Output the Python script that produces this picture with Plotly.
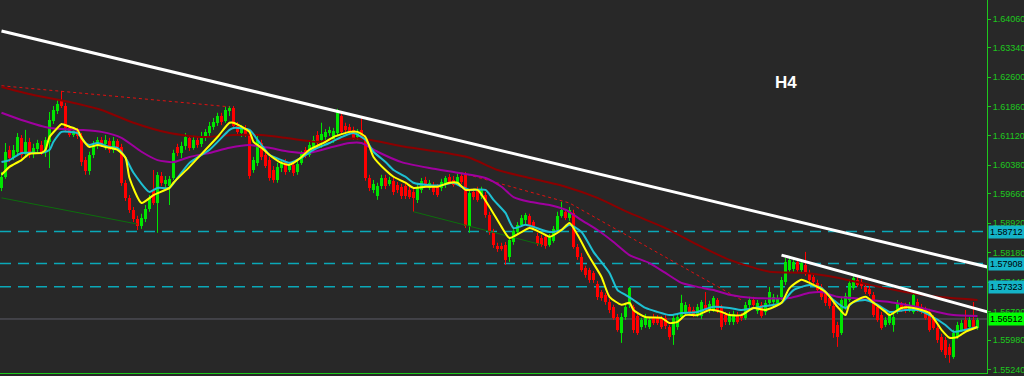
import plotly.graph_objects as go

# ---------------- candle data (GBPUSD-like, H4) ----------------
opens = [
    1.5981, 1.6009, 1.6077, 1.6057, 1.6072, 1.6107, 1.6067, 1.6097, 1.6067, 1.6079,
    1.6089, 1.6072, 1.6097, 1.6150, 1.6175, 1.6202, 1.6187, 1.6132, 1.6114, 1.6124,
    1.6112, 1.6051, 1.6024, 1.6064, 1.6087, 1.6102, 1.6092, 1.6099, 1.6077, 1.6099,
    1.6084, 1.5994, 1.5956, 1.5926, 1.5903, 1.5885, 1.5903, 1.5928, 1.5976, 1.5943,
    1.6011, 1.5991, 1.5986, 1.6006, 1.6084, 1.6069, 1.6087, 1.6107, 1.6082, 1.6102,
    1.6092, 1.6109, 1.6119, 1.6135, 1.6145, 1.6162, 1.6150, 1.6175, 1.6182, 1.6137,
    1.6119, 1.6132, 1.6117, 1.6026, 1.6044, 1.6094, 1.6064, 1.6051, 1.6026, 1.6001,
    1.6031, 1.6046, 1.6026, 1.6039, 1.6021, 1.6044, 1.6077, 1.6064, 1.6084, 1.6114,
    1.6102, 1.6109, 1.6119, 1.6102, 1.6119, 1.6162, 1.6137, 1.6135, 1.6127, 1.6109,
    1.6127, 1.6107, 1.6006, 1.5976, 1.5961, 1.5986, 1.6006, 1.5991, 1.5999, 1.5988,
    1.5984, 1.5986, 1.5976, 1.5971, 1.5951, 1.5976, 1.6001, 1.5981, 1.5988, 1.5984,
    1.5981, 1.5988, 1.6009, 1.6001, 1.5994, 1.6011, 1.6014, 1.5885, 1.5971, 1.5976,
    1.5961, 1.5963, 1.5913, 1.5870, 1.5835, 1.5835, 1.5838, 1.5807, 1.5845, 1.5870,
    1.5888, 1.5900, 1.5911, 1.5895, 1.5860, 1.5855, 1.5858, 1.5838, 1.5848, 1.5875,
    1.5911, 1.5921, 1.5906, 1.5918, 1.5833, 1.5807, 1.5780, 1.5775, 1.5767, 1.5739,
    1.5719, 1.5712, 1.5694, 1.5682, 1.5656, 1.5616, 1.5656, 1.5687, 1.5682, 1.5659,
    1.5631, 1.5636, 1.5631, 1.5656, 1.5654, 1.5654, 1.5654, 1.5631, 1.5611, 1.5631,
    1.5656, 1.5666, 1.5682, 1.5674, 1.5664, 1.5659, 1.5687, 1.5674, 1.5674, 1.5699,
    1.5682, 1.5661, 1.5644, 1.5644, 1.5661, 1.5659, 1.5654, 1.5687, 1.5699, 1.5672,
    1.5687, 1.5669, 1.5692, 1.5694, 1.5692, 1.5707, 1.5745, 1.5775, 1.5777, 1.5795,
    1.5775, 1.5787, 1.5767, 1.5757, 1.5742, 1.5732, 1.5717, 1.5704, 1.5684, 1.5636,
    1.5616, 1.5682, 1.5699, 1.5729, 1.5750, 1.5745, 1.5732, 1.5727, 1.5712, 1.5682,
    1.5661, 1.5636, 1.5641, 1.5636, 1.5669, 1.5687, 1.5684, 1.5674, 1.5669, 1.5694,
    1.5682, 1.5674, 1.5669, 1.5654, 1.5629, 1.5606, 1.5599, 1.5581, 1.5556, 1.5606,
    1.5624, 1.5649, 1.5631, 1.5649, 1.5629,
]
highs = [
    1.6021, 1.6094, 1.6087, 1.6089, 1.6119, 1.6114, 1.6127, 1.6107, 1.6092, 1.6102,
    1.6099, 1.6109, 1.6172, 1.6187, 1.6202, 1.6225, 1.6195, 1.6139, 1.6132, 1.6132,
    1.6119, 1.6059, 1.6072, 1.6099, 1.6109, 1.6109, 1.6114, 1.6107, 1.6109, 1.6104,
    1.6092, 1.6001, 1.5963, 1.5933, 1.5911, 1.5916, 1.5938, 1.5963, 1.6026, 1.6021,
    1.6021, 1.6011, 1.6011, 1.6077, 1.6092, 1.6097, 1.6119, 1.6114, 1.6112, 1.6109,
    1.6122, 1.6129, 1.6147, 1.6157, 1.6170, 1.6170, 1.6185, 1.6187, 1.6187, 1.6147,
    1.6139, 1.6139, 1.6124, 1.6059, 1.6112, 1.6102, 1.6072, 1.6059, 1.6036, 1.6044,
    1.6051, 1.6054, 1.6044, 1.6046, 1.6051, 1.6074, 1.6084, 1.6097, 1.6112, 1.6124,
    1.6145, 1.6129, 1.6135, 1.6132, 1.6180, 1.6170, 1.6145, 1.6142, 1.6135, 1.6129,
    1.6157, 1.6114, 1.6014, 1.6001, 1.5994, 1.6014, 1.6014, 1.6009, 1.6006, 1.5996,
    1.5991, 1.5994, 1.5984, 1.5978, 1.5991, 1.6006, 1.6009, 1.6001, 1.5996, 1.5991,
    1.6004, 1.6011, 1.6016, 1.6011, 1.6016, 1.6019, 1.6021, 1.5976, 1.5979, 1.5984,
    1.5984, 1.5971, 1.5921, 1.5878, 1.5843, 1.5843, 1.5845, 1.5858, 1.5878, 1.5895,
    1.5913, 1.5918, 1.5916, 1.5900, 1.5868, 1.5863, 1.5865, 1.5865, 1.5885, 1.5921,
    1.5946, 1.5928, 1.5933, 1.5926, 1.5840, 1.5817, 1.5785, 1.5780, 1.5772, 1.5747,
    1.5724, 1.5717, 1.5702, 1.5687, 1.5664, 1.5666, 1.5692, 1.5732, 1.5687, 1.5666,
    1.5654, 1.5664, 1.5654, 1.5664, 1.5661, 1.5659, 1.5661, 1.5636, 1.5661, 1.5664,
    1.5712, 1.5694, 1.5689, 1.5682, 1.5689, 1.5699, 1.5719, 1.5697, 1.5709, 1.5704,
    1.5687, 1.5669, 1.5669, 1.5672, 1.5669, 1.5666, 1.5694, 1.5707, 1.5707, 1.5699,
    1.5694, 1.5699, 1.5732, 1.5714, 1.5712, 1.5757, 1.5805, 1.5807, 1.5802, 1.5805,
    1.5800, 1.5820, 1.5775, 1.5765, 1.5750, 1.5739, 1.5724, 1.5712, 1.5692, 1.5644,
    1.5707, 1.5717, 1.5750, 1.5760, 1.5757, 1.5752, 1.5739, 1.5734, 1.5719, 1.5689,
    1.5669, 1.5656, 1.5669, 1.5664, 1.5699, 1.5694, 1.5692, 1.5694, 1.5719, 1.5702,
    1.5689, 1.5682, 1.5677, 1.5661, 1.5636, 1.5614, 1.5606, 1.5589, 1.5624, 1.5644,
    1.5649, 1.5674, 1.5656, 1.5694, 1.5654,
]
lows = [
    1.5973, 1.6004, 1.6046, 1.6051, 1.6061, 1.6056, 1.6061, 1.6056, 1.6056, 1.6069,
    1.6064, 1.6059, 1.6031, 1.6142, 1.6167, 1.6182, 1.6124, 1.6109, 1.6109, 1.6104,
    1.6036, 1.6014, 1.6014, 1.6056, 1.6079, 1.6084, 1.6077, 1.6069, 1.6069, 1.6077,
    1.5986, 1.5948, 1.5918, 1.5895, 1.5875, 1.5878, 1.5895, 1.5921, 1.5938, 1.5868,
    1.5986, 1.5981, 1.5938, 1.6001, 1.6061, 1.6056, 1.6077, 1.6074, 1.6077, 1.6082,
    1.6084, 1.6099, 1.6112, 1.6127, 1.6137, 1.6139, 1.6145, 1.6162, 1.6129, 1.6117,
    1.6109, 1.6109, 1.6004, 1.6019, 1.6036, 1.6051, 1.6031, 1.5999, 1.5994, 1.5994,
    1.6021, 1.6014, 1.6021, 1.6011, 1.6014, 1.6039, 1.6056, 1.6059, 1.6077, 1.6087,
    1.6082, 1.6102, 1.6112, 1.6094, 1.6114, 1.6114, 1.6119, 1.6114, 1.6102, 1.6102,
    1.6102, 1.5999, 1.5973, 1.5968, 1.5951, 1.5978, 1.5978, 1.5986, 1.5963, 1.5968,
    1.5953, 1.5953, 1.5953, 1.5921, 1.5943, 1.5968, 1.5981, 1.5976, 1.5963, 1.5958,
    1.5973, 1.5981, 1.5991, 1.5984, 1.5988, 1.5991, 1.5880, 1.5868, 1.5951, 1.5946,
    1.5953, 1.5906, 1.5863, 1.5830, 1.5820, 1.5823, 1.5787, 1.5795, 1.5838, 1.5865,
    1.5883, 1.5888, 1.5878, 1.5875, 1.5835, 1.5833, 1.5828, 1.5833, 1.5843, 1.5870,
    1.5906, 1.5900, 1.5898, 1.5828, 1.5800, 1.5770, 1.5755, 1.5742, 1.5742, 1.5699,
    1.5697, 1.5687, 1.5666, 1.5649, 1.5619, 1.5591, 1.5649, 1.5679, 1.5616, 1.5611,
    1.5624, 1.5629, 1.5626, 1.5636, 1.5636, 1.5626, 1.5626, 1.5599, 1.5586, 1.5624,
    1.5651, 1.5659, 1.5661, 1.5656, 1.5656, 1.5651, 1.5669, 1.5666, 1.5669, 1.5666,
    1.5624, 1.5636, 1.5636, 1.5636, 1.5639, 1.5646, 1.5649, 1.5679, 1.5682, 1.5664,
    1.5654, 1.5661, 1.5687, 1.5687, 1.5684, 1.5699, 1.5737, 1.5767, 1.5770, 1.5770,
    1.5767, 1.5760, 1.5742, 1.5737, 1.5719, 1.5699, 1.5684, 1.5677, 1.5604, 1.5581,
    1.5611, 1.5674, 1.5694, 1.5724, 1.5732, 1.5727, 1.5714, 1.5709, 1.5656, 1.5644,
    1.5624, 1.5631, 1.5636, 1.5619, 1.5664, 1.5669, 1.5666, 1.5669, 1.5664, 1.5669,
    1.5664, 1.5649, 1.5619, 1.5624, 1.5591, 1.5568, 1.5553, 1.5541, 1.5551, 1.5601,
    1.5619, 1.5619, 1.5624, 1.5626, 1.5624,
]
closes = [
    1.6009, 1.6072, 1.6057, 1.6077, 1.6109, 1.6064, 1.6097, 1.6064, 1.6082, 1.6094,
    1.6072, 1.6102, 1.6152, 1.6177, 1.6192, 1.6187, 1.6132, 1.6114, 1.6124, 1.6112,
    1.6046, 1.6024, 1.6064, 1.6089, 1.6102, 1.6092, 1.6102, 1.6077, 1.6099, 1.6084,
    1.5994, 1.5956, 1.5926, 1.5903, 1.5885, 1.5906, 1.5928, 1.5956, 1.5943, 1.6014,
    1.5994, 1.6001, 1.6004, 1.6069, 1.6069, 1.6087, 1.6109, 1.6082, 1.6102, 1.6089,
    1.6112, 1.6122, 1.6137, 1.6147, 1.6162, 1.6147, 1.6177, 1.6182, 1.6137, 1.6122,
    1.6132, 1.6117, 1.6011, 1.6051, 1.6102, 1.6059, 1.6036, 1.6006, 1.6001, 1.6034,
    1.6044, 1.6021, 1.6036, 1.6019, 1.6041, 1.6067, 1.6064, 1.6089, 1.6102, 1.6094,
    1.6117, 1.6122, 1.6127, 1.6124, 1.6172, 1.6122, 1.6127, 1.6122, 1.6107, 1.6122,
    1.6109, 1.6006, 1.5981, 1.5991, 1.5986, 1.6006, 1.5986, 1.6001, 1.5971, 1.5976,
    1.5961, 1.5961, 1.5958, 1.5956, 1.5984, 1.5999, 1.5986, 1.5994, 1.5971, 1.5963,
    1.5996, 1.6006, 1.5996, 1.5988, 1.6009, 1.5996, 1.5885, 1.5968, 1.5958, 1.5951,
    1.5976, 1.5913, 1.5870, 1.5838, 1.5828, 1.5828, 1.5800, 1.5850, 1.5873, 1.5888,
    1.5906, 1.5913, 1.5885, 1.5880, 1.5840, 1.5838, 1.5835, 1.5858, 1.5878, 1.5911,
    1.5926, 1.5906, 1.5926, 1.5833, 1.5807, 1.5775, 1.5762, 1.5750, 1.5750, 1.5707,
    1.5704, 1.5694, 1.5674, 1.5654, 1.5624, 1.5656, 1.5682, 1.5729, 1.5624, 1.5616,
    1.5649, 1.5656, 1.5649, 1.5641, 1.5641, 1.5631, 1.5634, 1.5606, 1.5654, 1.5656,
    1.5692, 1.5687, 1.5669, 1.5664, 1.5682, 1.5694, 1.5674, 1.5689, 1.5704, 1.5674,
    1.5631, 1.5644, 1.5661, 1.5664, 1.5644, 1.5654, 1.5687, 1.5699, 1.5687, 1.5692,
    1.5659, 1.5692, 1.5719, 1.5707, 1.5704, 1.5750, 1.5795, 1.5800, 1.5795, 1.5775,
    1.5792, 1.5767, 1.5750, 1.5745, 1.5724, 1.5707, 1.5692, 1.5684, 1.5616, 1.5606,
    1.5699, 1.5709, 1.5742, 1.5755, 1.5737, 1.5734, 1.5719, 1.5714, 1.5661, 1.5649,
    1.5629, 1.5649, 1.5661, 1.5656, 1.5692, 1.5674, 1.5672, 1.5687, 1.5712, 1.5674,
    1.5669, 1.5654, 1.5624, 1.5629, 1.5599, 1.5573, 1.5561, 1.5561, 1.5616, 1.5636,
    1.5641, 1.5624, 1.5649, 1.5631, 1.5649,
]

# ---------------- moving averages ----------------
ma_fast_x = [0, 2, 5, 7, 10, 11, 12, 14, 15, 17, 19, 20, 22, 24, 26, 27, 29, 31, 32, 35,
             38, 42, 43, 47, 51, 54, 57, 58, 62, 63, 65, 67, 70, 72, 73, 75, 77, 81, 83, 87,
             89, 91, 93, 96, 98, 101, 103, 106, 109, 112, 114, 116, 119, 122, 125, 127, 130, 132, 135, 137,
             140, 142, 144, 147, 150, 152, 155, 157, 158, 161, 165, 167, 169, 171, 174, 177, 180, 182, 185, 188,
             191, 195, 197, 200, 202, 206, 209, 211, 212, 216, 218, 221, 222, 225, 228, 232, 235, 237, 239, 241, 244]
ma_fast_y = [1.6014, 1.6034, 1.6051, 1.6067, 1.6069, 1.6077, 1.6109, 1.6132, 1.6142, 1.6135,
             1.6127, 1.6107, 1.6084, 1.6089, 1.6084, 1.6082, 1.6077, 1.6057, 1.6006, 1.5943,
             1.5963, 1.5981, 1.5994, 1.6034, 1.6077, 1.6109, 1.6145, 1.6145, 1.6122, 1.6097,
             1.6082, 1.6064, 1.6044, 1.6039, 1.6044, 1.6059, 1.6077, 1.6097, 1.6109, 1.6122,
             1.6122, 1.6109, 1.6059, 1.6026, 1.6009, 1.5994, 1.5981, 1.5984, 1.5984, 1.5994,
             1.5994, 1.5976, 1.5976, 1.5933, 1.5883, 1.5855, 1.5870, 1.5880, 1.5868, 1.5858,
             1.5875, 1.5893, 1.5863, 1.5807, 1.5757, 1.5707, 1.5687, 1.5692, 1.5674, 1.5656,
             1.5654, 1.5641, 1.5644, 1.5661, 1.5661, 1.5674, 1.5669, 1.5661, 1.5661, 1.5679,
             1.5674, 1.5692, 1.5729, 1.5750, 1.5742, 1.5719, 1.5682, 1.5661, 1.5687, 1.5707,
             1.5692, 1.5669, 1.5661, 1.5679, 1.5679, 1.5666, 1.5624, 1.5604, 1.5606, 1.5619, 1.5631]

ma_mid_x = [0, 2, 5, 10, 12, 13, 15, 17, 19, 21, 22, 24, 27, 29, 31, 33, 37, 39, 42, 44,
            47, 52, 57, 58, 62, 64, 65, 67, 70, 72, 75, 78, 82, 85, 88, 91, 93, 96, 98, 101,
            103, 107, 110, 113, 115, 117, 121, 123, 126, 128, 131, 133, 137, 140, 142, 145, 148, 152, 154, 156,
            158, 161, 164, 167, 170, 174, 178, 182, 185, 190, 195, 198, 202, 205, 208, 211, 213, 216, 219, 222,
            226, 229, 232, 236, 238, 241, 244]
ma_mid_y = [1.6046, 1.6051, 1.6069, 1.6069, 1.6077, 1.6097, 1.6122, 1.6122, 1.6119, 1.6094,
            1.6089, 1.6094, 1.6084, 1.6082, 1.6057, 1.6019, 1.5971, 1.5981, 1.5981, 1.6006,
            1.6044, 1.6077, 1.6127, 1.6132, 1.6127, 1.6102, 1.6089, 1.6064, 1.6051, 1.6044,
            1.6057, 1.6077, 1.6094, 1.6109, 1.6119, 1.6102, 1.6072, 1.6046, 1.6026, 1.6009,
            1.5994, 1.5988, 1.5988, 1.5994, 1.5984, 1.5976, 1.5976, 1.5951, 1.5918, 1.5880,
            1.5888, 1.5883, 1.5870, 1.5875, 1.5888, 1.5870, 1.5820, 1.5767, 1.5724, 1.5712,
            1.5699, 1.5679, 1.5669, 1.5661, 1.5666, 1.5669, 1.5682, 1.5679, 1.5674, 1.5682,
            1.5692, 1.5724, 1.5737, 1.5729, 1.5699, 1.5679, 1.5694, 1.5699, 1.5687, 1.5669,
            1.5674, 1.5674, 1.5661, 1.5636, 1.5619, 1.5624, 1.5631]

ma_slow_x = [0, 5, 12, 20, 25, 30, 35, 39, 43, 47, 52, 57, 62, 65, 67, 72, 77, 82, 87, 90,
             94, 100, 107, 114, 121, 125, 128, 132, 137, 141, 145, 149, 153, 157, 162, 166, 170, 174, 178, 182,
             188, 197, 202, 205, 209, 213, 217, 222, 226, 230, 234, 238, 244]
ma_slow_y = [1.6170, 1.6152, 1.6132, 1.6127, 1.6122, 1.6107, 1.6072, 1.6051, 1.6046, 1.6059,
             1.6069, 1.6082, 1.6089, 1.6084, 1.6082, 1.6072, 1.6069, 1.6082, 1.6094, 1.6094,
             1.6072, 1.6046, 1.6031, 1.6019, 1.6006, 1.5984, 1.5958, 1.5946, 1.5938, 1.5926,
             1.5900, 1.5875, 1.5845, 1.5812, 1.5792, 1.5767, 1.5742, 1.5732, 1.5724, 1.5712,
             1.5704, 1.5704, 1.5717, 1.5719, 1.5707, 1.5704, 1.5699, 1.5694, 1.5687, 1.5679,
             1.5669, 1.5661, 1.5659]

ma_long_x = [0, 8, 17, 25, 33, 42, 50, 58, 65, 71, 79, 87, 92, 100, 108, 117, 124, 132, 141, 149,
             157, 166, 174, 182, 192, 201, 209, 217, 226, 234, 244]
ma_long_y = [1.6235, 1.6215, 1.6197, 1.6177, 1.6145, 1.6119, 1.6109, 1.6114, 1.6114, 1.6107,
             1.6097, 1.6105, 1.6102, 1.6086, 1.6074, 1.6057, 1.6026, 1.6006, 1.5984, 1.5956,
             1.5918, 1.5880, 1.5838, 1.5800, 1.5770, 1.5767, 1.5755, 1.5737, 1.5719, 1.5707,
             1.5699]

# swing-high dotted lines
dot_a_x = [0, 57]
dot_a_y = [1.6238, 1.6185]
dot_b_x = [115, 142, 185]
dot_b_y = [1.6019, 1.5943, 1.5699]

# trend lines
trend_long_x = [0, 246.5]
trend_long_y = [1.6376, 1.5782]
trend_short_x = [195, 246.5]
trend_short_y = [1.5812, 1.5669]
green_a_x = [0, 34]
green_a_y = [1.5956, 1.5890]
green_b_x = [103, 135]
green_b_y = [1.5921, 1.5838]

# horizontal levels
levels = [1.58712, 1.57908, 1.57323]
level_labels = ["1.58712", "1.57908", "1.57323"]
bid_price = 1.56512
bid_label = "1.56512"

tick_vals = [1.64060, 1.63340, 1.62600, 1.61860, 1.61120, 1.60380, 1.59660,
             1.58920, 1.58180, 1.57440, 1.56700, 1.55980, 1.55240]
tick_text = ["1.64060", "1.63340", "1.62600", "1.61860", "1.61120", "1.60380", "1.59660",
             "1.58920", "1.58180", "1.57440", "1.56700", "1.55980", "1.55240"]

timeframe_label = "H4"

# ---------------- figure ----------------
BG = "#282828"
AXIS_GREEN = "#1ec81e"
UP = "#00e600"
DOWN = "#ff0000"

n = len(opens)
idx = list(range(n))

fig = go.Figure()

# wicks
for is_up, col in ((True, UP), (False, DOWN)):
    wx, wy = [], []
    for i in idx:
        if (closes[i] >= opens[i]) == is_up:
            wx += [i, i, None]
            wy += [lows[i], highs[i], None]
    fig.add_trace(go.Scatter(x=wx, y=wy, mode="lines", line=dict(color=col, width=1),
                             hoverinfo="skip", showlegend=False))

# bodies
bases = [min(o, c) for o, c in zip(opens, closes)]
heights = [max(abs(c - o), 0.00003) for o, c in zip(opens, closes)]
colors = [UP if c >= o else DOWN for o, c in zip(opens, closes)]
fig.add_trace(go.Bar(x=idx, y=heights, base=bases, width=0.75,
                     marker=dict(color=colors, line=dict(width=0)),
                     hoverinfo="skip", showlegend=False))

def line(x, y, color, width, dash="solid", shape="linear"):
    fig.add_trace(go.Scatter(x=x, y=y, mode="lines",
                             line=dict(color=color, width=width, dash=dash, shape=shape,
                                       smoothing=0.6 if shape == "spline" else None),
                             hoverinfo="skip", showlegend=False))

line(green_a_x, green_a_y, "#0c6e0c", 1)
line(green_b_x, green_b_y, "#0c6e0c", 1)
line(dot_a_x, dot_a_y, "#e01010", 1, "dot")
line(dot_b_x, dot_b_y, "#e01010", 1, "dot")
line(ma_long_x, ma_long_y, "#8b0000", 2, shape="spline")
line(ma_slow_x, ma_slow_y, "#a000a0", 2, shape="spline")
line(ma_mid_x, ma_mid_y, "#1ec0d2", 2, shape="spline")
line(ma_fast_x, ma_fast_y, "#ffff00", 2, shape="spline")
line(trend_long_x, trend_long_y, "#ffffff", 3)
line(trend_short_x, trend_short_y, "#ffffff", 3)

shapes = []
for lv in levels:
    shapes.append(dict(type="line", xref="paper", x0=0, x1=1, yref="y", y0=lv, y1=lv,
                       line=dict(color="#0aa8b8", width=1.5, dash="11px,7px"), layer="below"))
shapes.append(dict(type="line", xref="paper", x0=0, x1=1, yref="y", y0=bid_price, y1=bid_price,
                   line=dict(color="#5c5c68", width=1), layer="below"))

annotations = []
for lv, lab in zip(levels, level_labels):
    annotations.append(dict(xref="paper", x=1, xanchor="left", xshift=1, yref="y", y=lv,
                            yanchor="middle", text=lab, showarrow=False,
                            font=dict(family="Liberation Sans", size=9, color="#000000"),
                            bgcolor="#14b4c8", borderpad=1))
annotations.append(dict(xref="paper", x=1, xanchor="left", xshift=1, yref="y", y=bid_price,
                        yanchor="middle", text=bid_label, showarrow=False,
                        font=dict(family="Liberation Sans", size=9, color="#000000"),
                        bgcolor="#00ff00", borderpad=1))
annotations.append(dict(xref="x", x=196, yref="y", y=1.6245, text="<b>" + timeframe_label + "</b>",
                        showarrow=False, font=dict(family="Liberation Sans", size=17, color="#ffffff")))

fig.update_layout(
    width=1024, height=376,
    margin=dict(l=0, r=37, t=0, b=3),
    paper_bgcolor=BG, plot_bgcolor=BG,
    showlegend=False,
    bargap=0,
    shapes=shapes,
    annotations=annotations,
    xaxis=dict(range=[-0.375, 246.375], showgrid=False, zeroline=False,
               showticklabels=False, ticks="", showline=True,
               linecolor=AXIS_GREEN, linewidth=1, fixedrange=True),
    yaxis=dict(range=[1.55153, 1.64538], side="right", showgrid=False, zeroline=False,
               tickvals=tick_vals, ticktext=tick_text, ticks="outside", ticklen=3,
               tickcolor=AXIS_GREEN, showline=True, linecolor=AXIS_GREEN, linewidth=1,
               tickfont=dict(family="Liberation Sans", size=9, color=AXIS_GREEN),
               fixedrange=True),
)

fig.write_html("out.html")
